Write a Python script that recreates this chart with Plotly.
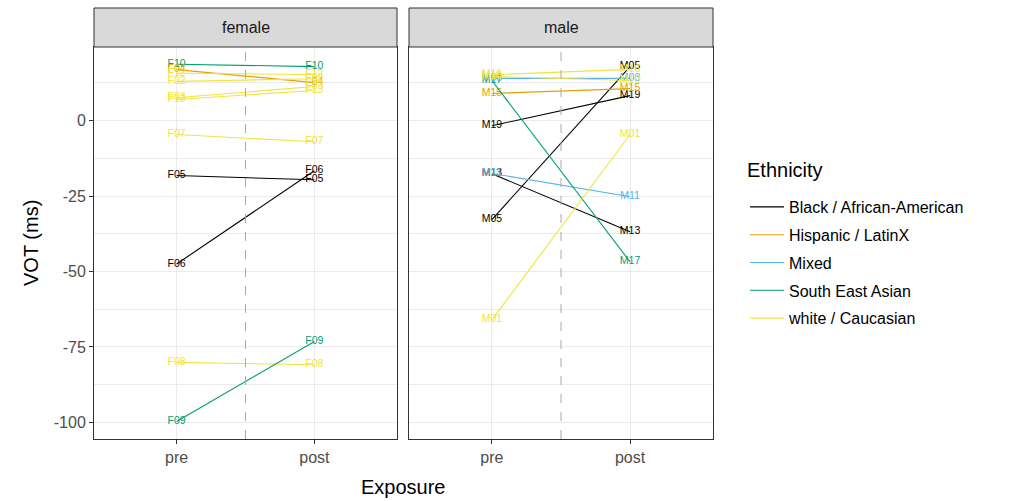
import plotly.graph_objects as go

# ---- data ----
speakers = ["F10", "F04", "F12", "F02", "F03", "F13", "F07", "F08", "F05", "F06", "F09",
            "M05", "M19", "M13", "M11", "M15", "M17", "M08", "M16", "M10", "M01"]
gender = ["female"] * 11 + ["male"] * 10
ethnicity = ["South East Asian", "Hispanic / LatinX", "white / Caucasian", "white / Caucasian",
             "white / Caucasian", "white / Caucasian", "white / Caucasian", "white / Caucasian",
             "Black / African-American", "Black / African-American", "South East Asian",
             "Black / African-American", "Black / African-American", "Black / African-American",
             "Mixed", "Hispanic / LatinX", "South East Asian", "Mixed",
             "white / Caucasian", "white / Caucasian", "white / Caucasian"]
vot_pre = [18.7, 16.9, 15.7, 13.0, 7.6, 7.0, -4.6, -80.1, -18.2, -47.5, -99.7,
           -32.8, -1.7, -17.6, -17.5, 9.0, 13.3, 14.0, 15.2, 14.6, -66.0]
vot_post = [17.9, 12.6, 15.3, 13.9, 11.3, 10.0, -7.0, -80.9, -19.6, -16.6, -73.2,
            17.9, 8.3, -36.8, -25.2, 10.6, -46.8, 14.0, 17.0, 13.3, -4.6]
exposure = ["pre", "post"]
eth_levels = ["Black / African-American", "Hispanic / LatinX", "Mixed",
              "South East Asian", "white / Caucasian"]
eth_colors = {"Black / African-American": "#000000", "Hispanic / LatinX": "#E69F00",
              "Mixed": "#56B4E9", "South East Asian": "#009E73",
              "white / Caucasian": "#F0E442"}
panels = ["female", "male"]
yticks = [-100, -75, -50, -25, 0]
ytick_labels = ["-100", "-75", "-50", "-25", "0"]

fig = go.Figure()
shown = set()
for i, sp in enumerate(speakers):
    eth = ethnicity[i]
    ax = "x" if gender[i] == "female" else "x2"
    ay = "y" if gender[i] == "female" else "y2"
    fig.add_trace(go.Scatter(
        x=exposure, y=[vot_pre[i], vot_post[i]], xaxis=ax, yaxis=ay,
        mode="lines+text", text=[sp, sp], textposition="middle center",
        textfont=dict(size=10.5, color=eth_colors[eth], family="Liberation Sans, Arial"),
        line=dict(color=eth_colors[eth], width=1.1),
        name=eth, legendgroup=eth, legendrank=eth_levels.index(eth) + 1,
        showlegend=eth not in shown, hoverinfo="skip"))
    shown.add(eth)

grid = "#EBEBEB"
axis_common = dict(showline=True, mirror=True, linecolor="#333333", linewidth=1,
                   tickcolor="#333333",
                   tickfont=dict(size=16, color="#4D4D4D", family="Liberation Sans, Arial"),
                   gridcolor=grid, gridwidth=1.3, zeroline=False)
minor_grid = dict(dtick=12.5, tick0=12.5, showgrid=True, gridcolor=grid,
                  gridwidth=0.6, ticks="")

L, W = 94, 619
H_PLOT = 392
f0, f1 = 0, (397 - L) / W
m0, m1 = (409 - L) / W, (713 - L) / W
fig.update_layout(
    width=1014, height=501,
    margin=dict(l=L, r=1014 - L - W, t=47, b=62),
    paper_bgcolor="white", plot_bgcolor="white",
    font=dict(family="Liberation Sans, Arial", color="#000000"),
    xaxis=dict(domain=[f0, f1], type="category", categoryorder="array",
               categoryarray=exposure, range=[-0.6, 1.6], ticks="outside", ticklen=4,
               **axis_common),
    xaxis2=dict(domain=[m0, m1], type="category", categoryorder="array",
                categoryarray=exposure, range=[-0.6, 1.6], anchor="y2", ticks="outside",
                ticklen=4, **axis_common),
    yaxis=dict(range=[-105.5, 24.4], tickvals=yticks, ticktext=ytick_labels,
               ticks="outside", ticklen=4, minor=minor_grid, **axis_common),
    yaxis2=dict(range=[-105.5, 24.4], tickvals=yticks, anchor="x2", matches="y",
                showticklabels=False, ticks="", minor=minor_grid, **axis_common),
    legend=dict(x=(745 - L) / W, y=(439 - 190) / H_PLOT, xanchor="left", yanchor="top",
                font=dict(size=16, color="#000000"), tracegroupgap=4,
                itemwidth=34),
    showlegend=True,
)

# legend title
fig.add_annotation(xref="paper", yref="paper", x=(745 - L) / W, y=(439 - 170) / H_PLOT,
                   xanchor="left", yanchor="middle", text="Ethnicity", showarrow=False,
                   font=dict(size=20, color="#000000"))

# dashed separators between pre and post
for ax, ay in (("x", "y"), ("x2", "y2")):
    fig.add_shape(type="line", xref=f"{ax} domain", yref=f"{ay} domain",
                  x0=0.5, x1=0.5, y0=0, y1=1,
                  line=dict(color="#A9A9A9", width=1, dash="dash"))

# facet strips
strip_top = 1 + 39 / H_PLOT
for (x0, x1), label in zip(((f0, f1), (m0, m1)), panels):
    fig.add_shape(type="rect", xref="paper", yref="paper", x0=x0, x1=x1,
                  y0=1, y1=strip_top, fillcolor="#D9D9D9",
                  line=dict(color="#333333", width=1))
    fig.add_annotation(xref="paper", yref="paper", x=(x0 + x1) / 2,
                       y=(1 + strip_top) / 2, yanchor="middle", xanchor="center",
                       text=label, showarrow=False,
                       font=dict(size=16, color="#1A1A1A"))

# axis titles
fig.add_annotation(xref="paper", yref="paper", x=(f0 + m1) / 2, y=-0.122,
                   yanchor="middle", text="Exposure", showarrow=False,
                   font=dict(size=20, color="#000000"))
fig.add_annotation(xref="paper", yref="paper", x=(31 - L) / W, y=0.5, textangle=-90,
                   xanchor="center", yanchor="middle",
                   text="VOT (ms)", showarrow=False, font=dict(size=20, color="#000000"))

fig.write_html("out.html")
